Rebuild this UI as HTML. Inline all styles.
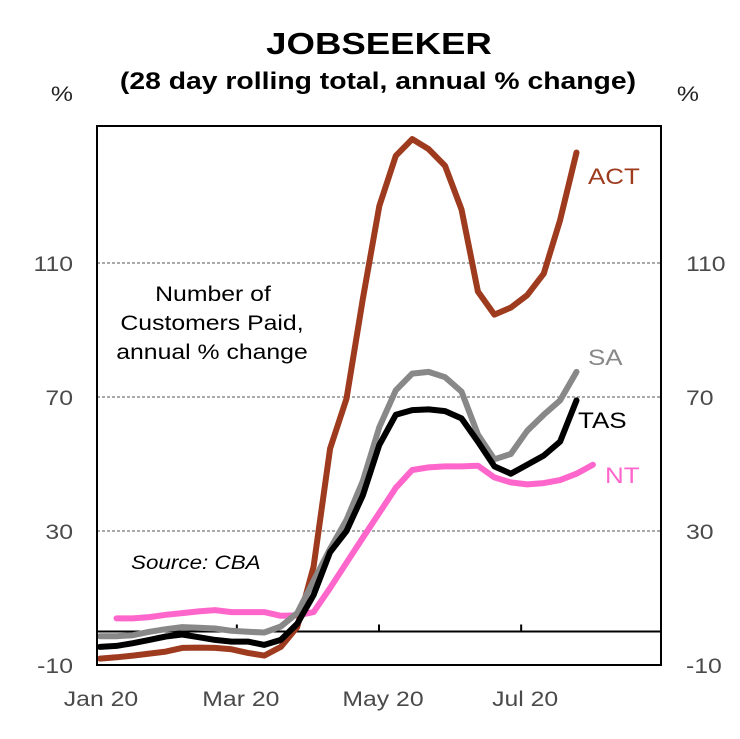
<!DOCTYPE html>
<html><head><meta charset="utf-8"><style>
body{margin:0;background:#fff;}
svg text{font-family:"Liberation Sans",Arial,sans-serif;}
</style></head><body>
<svg id="chart" width="740" height="734" viewBox="0 0 740 734">
<text x="379" y="54" text-anchor="middle" font-size="31" font-weight="bold">JOBSEEKER</text>
<text x="378" y="89" text-anchor="middle" font-size="24" font-weight="bold">(28 day rolling total, annual % change)</text>
<text x="62" y="101" text-anchor="middle" font-size="21" fill="#222">%</text>
<text x="688" y="101" text-anchor="middle" font-size="21" fill="#222">%</text>
<g id="grid"></g>
<g id="series"></g>
<rect x="97" y="126" width="564" height="539" fill="none" stroke="#000" stroke-width="2"/>
<text x="213" y="301" text-anchor="middle" font-size="21">Number of</text>
<text x="212" y="330" text-anchor="middle" font-size="21">Customers Paid,</text>
<text x="212" y="359" text-anchor="middle" font-size="21">annual % change</text>
<text x="131" y="569" font-size="19" font-style="italic">Source: CBA</text>
<text x="588" y="184" font-size="22" fill="#9E3A1E">ACT</text>
<text x="588" y="365" font-size="22" fill="#888">SA</text>
<text x="578" y="428" font-size="22" fill="#000">TAS</text>
<text x="605" y="483" font-size="22" fill="#FF66CC">NT</text>
</svg>
<script>
const yTicks=[-10,30,70,110];
const xTickLabels=["Jan 20","Mar 20","May 20","Jul 20"];
const xTickDays=[0,60,121,182];
const act=[-8.1,-7.7,-7.2,-6.6,-6,-4.9,-4.8,-4.9,-5.3,-6.4,-7.2,-4.6,1.3,19.4,54.6,69.5,99.4,127,142,147,144,139,126,101.5,94.6,96.7,100.4,106.8,122.8,143];
const sa=[-1.4,-1.4,-1.1,-0.1,0.7,1.3,1.1,0.9,0.2,-0.1,-0.3,1.5,5.5,15.1,24.7,33.3,45,61,72,77,77.5,75.9,71.6,58.8,51.4,53,59.9,64.7,69,77.5];
const tas=[-4.6,-4.3,-3.5,-2.5,-1.5,-0.9,-1.7,-2.5,-3,-3,-4,-2.5,2.3,10.9,23.7,30,40.7,55.7,64.7,66.1,66.3,65.8,63.6,56.7,49.3,47.1,49.8,52.5,56.7,69];
const nt=[null,3.9,3.9,4.3,5,5.5,6,6.4,5.8,5.8,5.8,4.7,4.8,5.8,13,20.5,28,35.4,42.9,48.2,49,49.3,49.3,49.5,46,44.5,43.9,44.3,45.2,47.1,49.8];
const NS="http://www.w3.org/2000/svg";
const X0=97,X1=661,Y0=126,Y1=665,YMIN=-10,YMAX=150.9,DMAX=242;
const xs=d=>X0+(d/DMAX)*(X1-X0);
const ys=v=>Y1-(v-YMIN)/(YMAX-YMIN)*(Y1-Y0);
const dayOf=i=>1.3+7.05*i;
function mk(tag,attrs,parent){const e=document.createElementNS(NS,tag);for(const k in attrs)e.setAttribute(k,attrs[k]);parent.appendChild(e);return e;}
const grid=document.getElementById('grid');
yTicks.forEach(v=>{
  const y=ys(v);
  if(v>YMIN){
    const g=mk('line',{x1:X0,x2:X1,y1:y,y2:y,stroke:'#555','stroke-width':1,'stroke-dasharray':'3,2'},grid);
    
    
  }
  const t1=mk('text',{x:73,y:y+8,'text-anchor':'end','font-size':21,fill:'#4a4a4a'},grid);t1.textContent=v;
  
  
  const t2=mk('text',{x:686,y:y+8,'text-anchor':'start','font-size':21,fill:'#4a4a4a'},grid);t2.textContent=v;
  
  
});
const z=mk('line',{x1:X0,x2:X1,y1:ys(0),y2:ys(0),stroke:'#000','stroke-width':2},grid);


xTickDays.forEach((d,i)=>{
  const x=xs(d);
  if(d>0){const tk=mk('line',{x1:x,x2:x,y1:ys(0),y2:ys(0)-7,stroke:'#000','stroke-width':2},grid);
  
  }
  const t=mk('text',{x:x+4,y:706,'text-anchor':'middle','font-size':21,fill:'#4a4a4a'},grid);t.textContent=xTickLabels[i];
  
  
});
const ser=document.getElementById('series');
function draw(arr,color,name){
  const pts=[];arr.forEach((v,i)=>{if(v!==null)pts.push(xs(dayOf(i)).toFixed(1)+','+ys(v).toFixed(1));});
  const p=mk('polyline',{points:pts.join(' '),fill:'none',stroke:color,'stroke-width':6,'stroke-linejoin':'round','stroke-linecap':'round'},ser);
  
  
}
draw(nt,'#FF66CC','nt-line');
draw(act,'#9E3A1E','act-line');
draw(sa,'#888888','sa-line');
draw(tas,'#000000','tas-line');
// horizontal stretch to match reference typography
document.querySelectorAll('svg text').forEach(t=>{
  const L=t.getComputedTextLength();
  t.setAttribute('textLength',(L*1.18).toFixed(1));
  t.setAttribute('lengthAdjust','spacingAndGlyphs');
});
</script>
</body></html>
